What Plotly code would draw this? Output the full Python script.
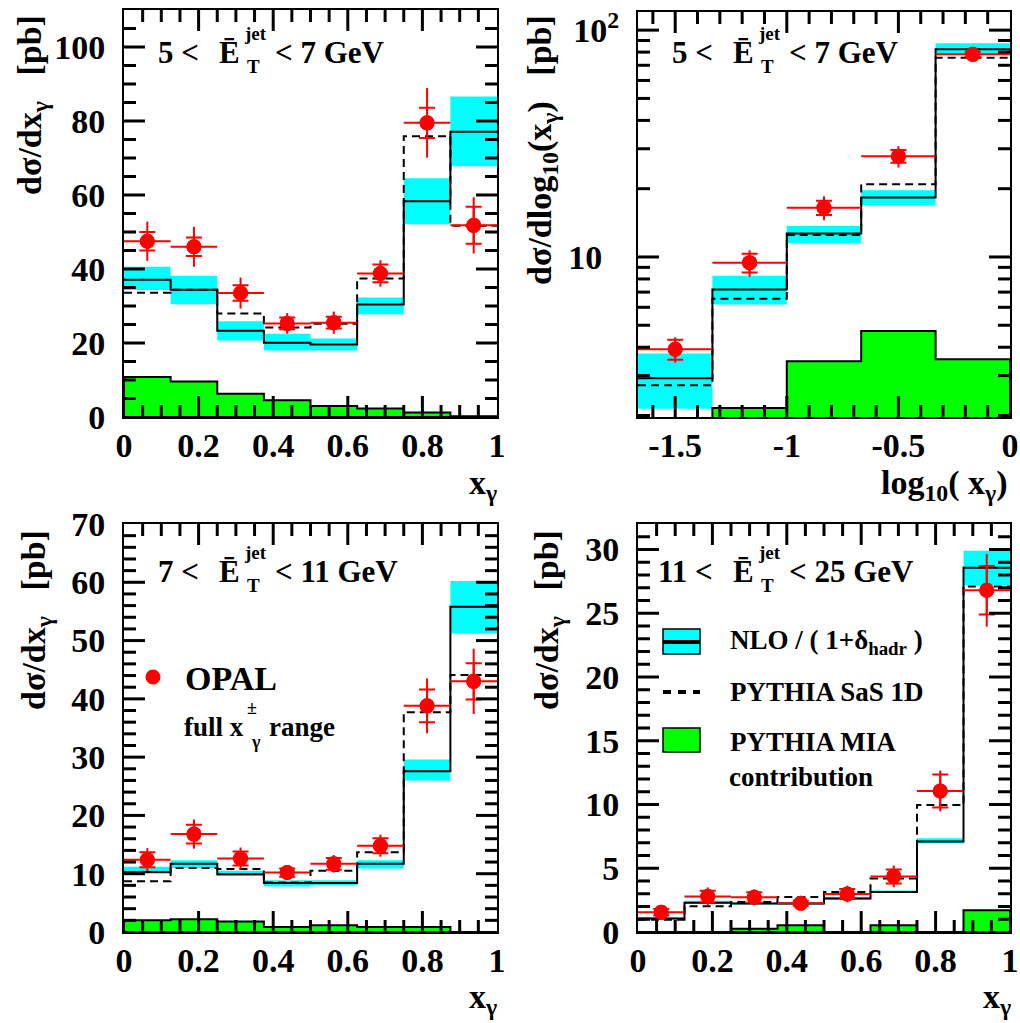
import math
import plotly.graph_objects as go

W, H = 1020, 1023

# ---------------- bin definitions ----------------
xg_edges = [0.0, 0.125, 0.25, 0.375, 0.5, 0.625, 0.75, 0.875, 1.0]
logx_edges = [-5 / 3, -4 / 3, -1.0, -2 / 3, -1 / 3, 0.0]

# ---------------- 5 < ET < 7 GeV, dsigma/dx_gamma ----------------
p1_opal = [47.5, 46.0, 33.5, 25.3, 25.5, 38.8, 79.5, 51.8]
p1_stat = [2.5, 2.5, 2.1, 1.6, 1.6, 2.4, 4.1, 5.0]
p1_tot = [5.3, 5.4, 4.2, 2.8, 3.0, 3.6, 9.4, 7.6]
p1_nlo = [37.1, 34.4, 23.3, 20.1, 19.6, 30.4, 58.3, 77.1]
p1_nlo_lo = [34.3, 30.5, 20.7, 18.0, 18.0, 27.8, 52.1, 67.8]
p1_nlo_hi = [40.6, 38.2, 25.9, 22.5, 21.2, 32.3, 64.5, 86.6]
p1_sas = [33.6, 34.4, 28.0, 24.2, 25.2, 37.4, 75.9, 51.7]
p1_mia = [10.8, 9.6, 6.3, 4.5, 3.0, 2.3, 1.2, 0.2]

# ---------------- 5 < ET < 7 GeV, dsigma/dlog10(x_gamma) ----------------
p2_opal = [3.92, 9.44, 16.5, 27.8, 78.2]
p2_stat = [0.4, 0.9, 1.2, 1.8, 2.0]
p2_tot = [0.5, 1.27, 2.0, 3.0, 3.2]
p2_nlo = [2.92, 7.18, 12.7, 18.3, 82.4]
p2_nlo_lo = [2.14, 6.18, 11.5, 16.9, 78.6]
p2_nlo_hi = [3.75, 8.27, 13.7, 19.7, 87.6]
p2_sas = [2.72, 6.55, 12.5, 20.9, 75.5]
p2_mia = [0.0, 2.16, 3.47, 4.72, 3.54]

# ---------------- 7 < ET < 11 GeV ----------------
p3_opal = [12.4, 16.8, 12.6, 10.2, 11.7, 14.8, 38.8, 43.0]
p3_stat = [1.3, 1.6, 1.2, 0.7, 1.0, 1.3, 2.8, 3.1]
p3_tot = [2.0, 2.5, 1.9, 1.0, 1.5, 1.9, 4.7, 5.6]
p3_nlo = [10.3, 11.7, 9.9, 8.4, 8.4, 11.7, 27.6, 55.8]
p3_nlo_lo = [10.0, 11.0, 9.6, 7.8, 8.0, 10.9, 26.0, 51.2]
p3_nlo_hi = [11.2, 12.3, 10.5, 8.9, 8.9, 12.3, 29.6, 60.2]
p3_sas = [8.7, 11.0, 10.8, 8.5, 10.5, 13.7, 37.7, 44.1]
p3_mia = [2.0, 2.2, 1.8, 0.86, 1.15, 0.86, 0.86, 0.0]

# ---------------- 11 < ET < 25 GeV ----------------
p4_opal = [1.55, 2.78, 2.72, 2.25, 2.98, 4.36, 11.06, 26.8]
p4_stat = [0.25, 0.45, 0.4, 0.2, 0.4, 0.55, 1.3, 1.9]
p4_tot = [0.4, 0.72, 0.63, 0.33, 0.65, 0.85, 1.6, 2.85]
p4_nlo = [1.05, 2.3, 2.23, 2.23, 2.62, 3.14, 7.1, 28.56]
p4_nlo_lo = [0.97, 2.22, 2.15, 2.12, 2.52, 3.05, 6.94, 27.2]
p4_nlo_hi = [1.15, 2.45, 2.3, 2.3, 2.75, 3.25, 7.35, 29.9]
p4_sas = [0.97, 2.02, 2.36, 2.75, 3.14, 4.19, 9.96, 27.1]
p4_mia = [0.0, 0.0, 0.26, 0.52, 0.0, 0.52, 0.0, 1.7]

# axis tick labels
p2_xtickvals = [-1.5, -1.0, -0.5, 0.0]
p2_xticktext = ["-1.5", "-1", "-0.5", "0"]
p2_ytickvals = [10, 100]
p2_yticktext = ["10\u2007", "10<sup>2</sup>"]
p2_yminor = [2, 3, 4, 5, 6, 7, 8, 9, 20, 30, 40, 50, 60, 70, 80, 90]

CYAN = "#00ffff"
GREEN = "#00ff00"
RED = "#ff0000"
SERIF = "Liberation Serif"

# frames (pixel boxes: left, top, right, bottom) and axis ranges
frames = {1: (124, 10, 497, 417), 2: (638, 12, 1010, 417),
          3: (124, 524, 497, 932), 4: (638, 524, 1010, 932)}
xranges = {1: [0, 1], 2: [logx_edges[0], logx_edges[-1]], 3: [0, 1], 4: [0, 1]}
yranges = {1: [0, 110], 2: [0.2945, 2.08], 3: [0, 70], 4: [0, 32]}
ylog = {1: False, 2: True, 3: False, 4: False}


def px(x):
    return x / W


def py(y):
    return 1 - y / H


def refs(k):
    return ("x", "y") if k == 1 else (f"x{k}", f"y{k}")


def rect_path(edges, lo, hi):
    xs, ys = [], []
    for i in range(len(lo)):
        xs += [edges[i], edges[i + 1], edges[i + 1], edges[i], edges[i], None]
        ys += [lo[i], lo[i], hi[i], hi[i], lo[i], None]
    return xs, ys


def step_path(edges, vals):
    xs, ys = [], []
    for i, v in enumerate(vals):
        xs += [edges[i], edges[i + 1]]
        ys += [v, v]
    return xs, ys


def filled_step(edges, vals, floor):
    v2 = [v if v > 0 else floor for v in vals]
    xs, ys = step_path(edges, v2)
    return [edges[0]] + xs + [edges[-1], edges[0]], [floor] + ys + [floor, floor]


fig = go.Figure()


def add_panel(k, edges, opal, stat, tot, nlo, lo, hi, sas, mia, floor):
    xa, ya = refs(k)
    common = dict(xaxis=xa, yaxis=ya, hoverinfo="skip", showlegend=False)
    bx, by = rect_path(edges, lo, hi)
    fig.add_trace(go.Scatter(x=bx, y=by, mode="lines", fill="toself", fillcolor=CYAN,
                             line=dict(width=0), **common))
    gx, gy = filled_step(edges, mia, floor)
    fig.add_trace(go.Scatter(x=gx, y=gy, mode="lines", fill="toself", fillcolor=GREEN,
                             line=dict(color="black", width=2), **common))
    nx, ny = step_path(edges, nlo)
    fig.add_trace(go.Scatter(x=nx, y=ny, mode="lines",
                             line=dict(color="black", width=2), **common))
    sx, sy = step_path(edges, sas)
    fig.add_trace(go.Scatter(x=sx, y=sy, mode="lines",
                             line=dict(color="black", width=2, dash="8px,5px"), **common))
    centers = [(edges[i] + edges[i + 1]) / 2 for i in range(len(opal))]
    halfw = [(edges[i + 1] - edges[i]) / 2 for i in range(len(opal))]
    mk = dict(color=RED, size=15)
    fig.add_trace(go.Scatter(x=centers, y=opal, mode="markers", marker=mk,
                             error_y=dict(type="data", array=stat, width=8, thickness=2, color=RED),
                             **common))
    fig.add_trace(go.Scatter(x=centers, y=opal, mode="markers", marker=mk,
                             error_x=dict(type="data", array=halfw, width=0, thickness=2, color=RED),
                             error_y=dict(type="data", array=tot, width=0, thickness=2, color=RED),
                             **common))


add_panel(1, xg_edges, p1_opal, p1_stat, p1_tot, p1_nlo, p1_nlo_lo, p1_nlo_hi, p1_sas, p1_mia, 0)
add_panel(2, logx_edges, p2_opal, p2_stat, p2_tot, p2_nlo, p2_nlo_lo, p2_nlo_hi, p2_sas, p2_mia, 1.0)
add_panel(3, xg_edges, p3_opal, p3_stat, p3_tot, p3_nlo, p3_nlo_lo, p3_nlo_hi, p3_sas, p3_mia, 0)
add_panel(4, xg_edges, p4_opal, p4_stat, p4_tot, p4_nlo, p4_nlo_lo, p4_nlo_hi, p4_sas, p4_mia, 0)

TICKFONT = dict(family=SERIF, size=34, color="black", weight="bold")


def axis(domain, anchor, **kw):
    d = dict(domain=domain, anchor=anchor, automargin=False, showline=True, linecolor="black",
             linewidth=2, mirror=True, ticks="", showgrid=False, zeroline=False,
             tickfont=TICKFONT)
    d.update(kw)
    return d


lay = {}
for k, (l, t, r, b) in frames.items():
    xd = [px(l), px(r)]
    yd = [py(b), py(t)]
    xn = "xaxis" if k == 1 else f"xaxis{k}"
    yn = "yaxis" if k == 1 else f"yaxis{k}"
    xa, ya = refs(k)
    if k == 2:
        lay[xn] = axis(xd, ya, range=xranges[k], tickmode="array", tickvals=p2_xtickvals,
                       ticktext=p2_xticktext, ticklabelstandoff=-3)
        lay[yn] = axis(yd, xa, type="log", range=yranges[k], tickmode="array",
                       tickvals=p2_ytickvals, ticktext=p2_yticktext, ticklabelstandoff=10)
    else:
        ydt = {1: 20, 3: 10, 4: 5}[k]
        lay[xn] = axis(xd, ya, range=xranges[k], tick0=0, dtick=0.2, ticklabelstandoff=-3)
        lay[yn] = axis(yd, xa, range=yranges[k], tick0=0, dtick=ydt, ticklabelstandoff=10)

fig.update_layout(width=W, height=H, margin=dict(l=0, r=0, t=0, b=0, autoexpand=False),
                  plot_bgcolor="white", paper_bgcolor="white", showlegend=False, **lay)

# ---------------- inward tick marks on all four frame sides ----------------
MAJ, MIN = 21, 12
shapes = []


def frange(a, b, step):
    n = int(round((b - a) / step))
    return [round(a + i * step, 6) for i in range(n + 1)]


def xpix(k, v):
    l, t, r, b = frames[k]
    x0, x1 = xranges[k]
    return l + (v - x0) / (x1 - x0) * (r - l)


def ypix(k, v):
    l, t, r, b = frames[k]
    y0, y1 = yranges[k]
    u = math.log10(v) if ylog[k] else v
    return b - (u - y0) / (y1 - y0) * (b - t)


def seg(xa, ya, xb, yb):
    shapes.append(dict(type="line", xref="paper", yref="paper", x0=px(xa), x1=px(xb),
                       y0=py(ya), y1=py(yb), line=dict(color="black", width=3), layer="above"))


def tick_marks(k, xmaj, xmin, ymaj, ymin):
    l, t, r, b = frames[k]
    for vals, L in ((xmaj, MAJ), (xmin, MIN)):
        for v in vals:
            xp = xpix(k, v)
            seg(xp, b, xp, b - L)
            seg(xp, t, xp, t + L)
    for vals, L in ((ymaj, MAJ), (ymin, MIN)):
        for v in vals:
            yp = ypix(k, v)
            seg(l, yp, l + L, yp)
            seg(r - L, yp, r, yp)


x_major = [0.2, 0.4, 0.6, 0.8]
x_minor = [v for v in frange(0.05, 0.95, 0.05) if v not in x_major]
tick_marks(1, x_major, x_minor, frange(20, 100, 20), [v for v in frange(5, 105, 5) if v % 20])
tick_marks(2, [-1.5, -1.0, -0.5],
           [v for v in frange(-1.6, -0.1, 0.1) if v not in (-1.5, -1.0, -0.5)],
           p2_ytickvals, p2_yminor)
tick_marks(3, x_major, x_minor, frange(10, 60, 10), [v for v in frange(2, 68, 2) if v % 10])
tick_marks(4, x_major, x_minor, frange(5, 30, 5), [v for v in frange(1, 31, 1) if v % 5])

ann = []


def text(x, y, s, size=32, xanchor="left", yanchor="middle", angle=0, bold=True):
    ann.append(dict(x=px(x), y=py(y), xref="paper", yref="paper", text=s, showarrow=False,
                    xanchor=xanchor, yanchor=yanchor, textangle=angle,
                    font=dict(family=SERIF, size=size, color="black",
                              weight="bold" if bold else "normal")))


# E_T^jet range labels
def et_label(xf, yc, lo, hi):
    text(xf + 77, yc, f"{lo} <", size=31, xanchor="right")
    text(xf + 93, yc, "\u0112", size=31)
    text(xf + 118, yc - 19, "jet", size=19)
    text(xf + 121, yc + 14, "T", size=19)
    text(xf + 149, yc, f"< {hi} GeV", size=31)


et_label(124, 53, 5, 7)
et_label(638, 53, 5, 7)
et_label(124, 571, 7, 11)
et_label(638, 571, 11, 25)

# axis titles
ytitle = "d\u03c3/dx<sub>\u03b3</sub>\u00a0\u00a0\u00a0[pb]"
text(32, 13, ytitle, size=34, xanchor="center", yanchor="top", angle=-90)
text(542, 13, "d\u03c3/dlog<sub>10</sub>(x<sub>\u03b3</sub>)\u00a0\u00a0\u00a0[pb]", size=34,
     xanchor="center", yanchor="top", angle=-90)
text(36, 528, ytitle, size=34, xanchor="center", yanchor="top", angle=-90)
text(549, 528, ytitle, size=34, xanchor="center", yanchor="top", angle=-90)

text(499, 485, "x<sub>\u03b3</sub>", size=34, xanchor="right")
text(1010, 485, "log<sub>10</sub>( x<sub>\u03b3</sub>)", size=34, xanchor="right")
text(499, 999, "x<sub>\u03b3</sub>", size=34, xanchor="right")
text(1013, 999, "x<sub>\u03b3</sub>", size=34, xanchor="right")

# OPAL key
text(183, 678, "OPAL", size=34)
text(182, 727, "full x", size=27)
text(245, 708, "\u00b1", size=18)
text(249, 742, "\u03b3", size=18)
text(267, 727, "range", size=27)

# model key
text(728, 642, "NLO / ( 1+\u03b4<sub>hadr</sub> )", size=27)
text(728, 692, "PYTHIA SaS 1D", size=27)
text(728, 742, "PYTHIA MIA", size=27)
text(727, 777, "contribution", size=27)

shapes += [
    dict(type="circle", xref="paper", yref="paper", xsizemode="pixel", ysizemode="pixel",
         xanchor=px(153), yanchor=py(677), x0=-7.5, x1=7.5, y0=-7.5, y1=7.5,
         fillcolor=RED, line=dict(width=0)),
    dict(type="rect", xref="paper", yref="paper", x0=px(663), x1=px(700), y0=py(654), y1=py(629),
         fillcolor=CYAN, line=dict(color="black", width=1.5)),
    dict(type="line", xref="paper", yref="paper", x0=px(663), x1=px(700), y0=py(642), y1=py(642),
         line=dict(color="black", width=4)),
    dict(type="line", xref="paper", yref="paper", x0=px(663), x1=px(700), y0=py(692), y1=py(692),
         line=dict(color="black", width=4, dash="8px,7px")),
    dict(type="rect", xref="paper", yref="paper", x0=px(663), x1=px(700), y0=py(752), y1=py(728),
         fillcolor=GREEN, line=dict(color="black", width=1.5)),
]

fig.update_layout(annotations=ann, shapes=shapes)
fig.write_html("out.html")
